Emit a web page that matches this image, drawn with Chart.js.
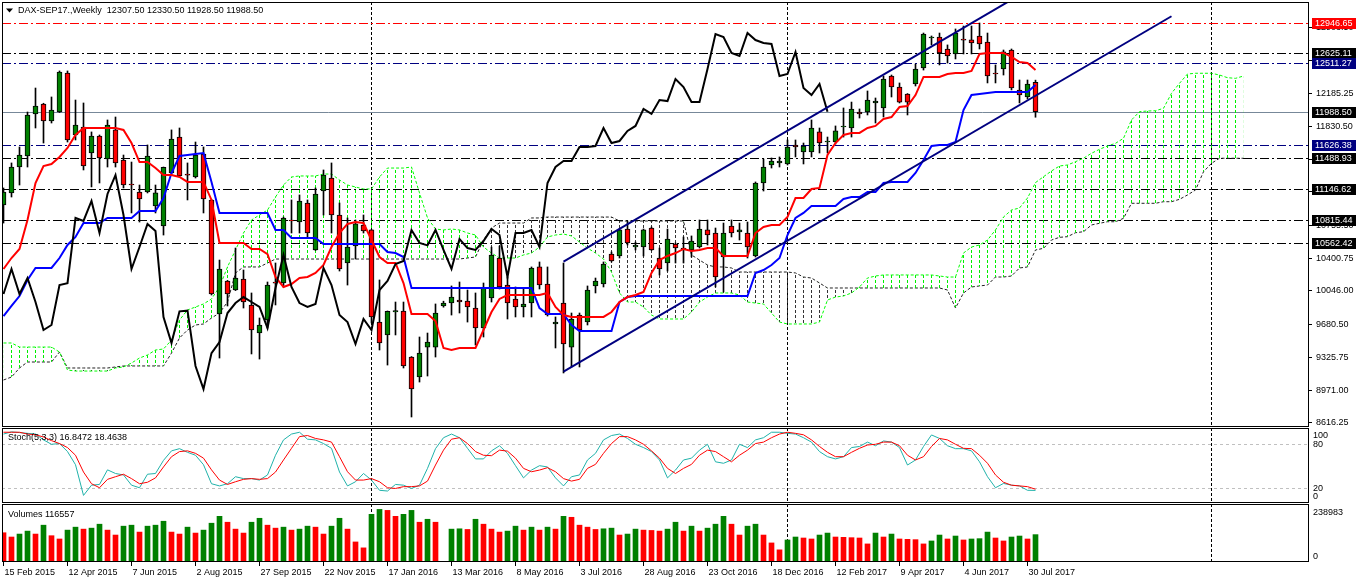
<!DOCTYPE html>
<html><head><meta charset="utf-8">
<script src="https://cdn.jsdelivr.net/npm/chart.js@4.4.1/dist/chart.umd.min.js"></script>
<style>
html,body{margin:0;padding:0;background:#fff;overflow:hidden;width:1358px;height:584px;}
canvas{position:absolute;left:0;}
</style></head><body>
<canvas id="cMain" width="1358" height="428" style="top:0px"></canvas>
<canvas id="cStoch" width="1358" height="75" style="top:428px"></canvas>
<canvas id="cVol" width="1358" height="81" style="top:503px"></canvas>
<script>
// ---------------- DATA ----------------
const DATES = ['15 Feb 2015','12 Apr 2015','7 Jun 2015','2 Aug 2015','27 Sep 2015','22 Nov 2015','17 Jan 2016','13 Mar 2016','8 May 2016','3 Jul 2016','28 Aug 2016','23 Oct 2016','18 Dec 2016','12 Feb 2017','9 Apr 2017','4 Jun 2017','30 Jul 2017'];
const DATE_INDEX = [0,8,16,24,32,40,48,56,64,72,80,88,96,104,112,120,128];

const OPEN = [10977,11108,11389,11508,11964,12072,11888,11985,12408,11736,
11823,11541,11725,11476,11791,11465,11205,11118,11118,10967,
10750,11324,11714,11313,11281,11530,11032,9796,10154,10056,
10175,9894,9590,9731,10143,10132,10815,10793,10999,10490,
11129,11270,10869,10349,10533,10761,10707,9709,9569,9820,
9829,9330,9113,9438,9438,9883,9915,9948,9937,9861,
9644,9970,10403,10110,9959,9872,9915,10306,10121,9688,
9915,9438,9785,9709,10100,10121,10446,10425,10717,10522,
10522,10728,10403,10349,10555,10511,10490,10522,10707,10674,
10414,10750,10685,10674,10425,11216,11411,11433,11422,11628,
11552,11552,11769,11660,11660,11823,11812,11985,11985,12083,
12029,12375,12256,12180,12289,12462,12787,12798,12668,12614,
12776,12766,12809,12744,12408,12451,12657,12224,12148,12307.5];
const HIGH = [11162,11433,11606,11985,12245,12080,12148,12430,12430,12115,
12083,11769,11736,11899,11931,11519,11443,11194,11628,11194,
11389,11791,11812,11433,11660,11606,11040,10381,10160,10511,
10273,10024,9753,10143,10349,10847,11032,11086,11032,11162,
11357,11433,10999,10837,10815,10869,10712,10165,9829,9926,
9926,9335,9547,9590,9905,9935,10100,10143,10056,10024,
10132,10522,10533,10197,10089,10078,10306,10360,10306,9764,
10349,9807,9807,10100,10186,10360,10468,10717,10804,10576,
10717,10739,10511,10717,10566,10631,10642,10815,10815,10728,
10782,10815,10782,10793,11227,11476,11487,11498,11682,11682,
11649,11899,11812,11714,11834,12029,12093,12018,12213,12137,
12375,12386,12300,12185,12505,12841,12809,12841,12712,12885,
12917,12917,12950,12841,12495,12657,12668,12332,12332,12330.5];
const LOW = [10782,11064,11194,11389,11812,11649,11866,11980,11660,11682,
11357,11173,11216,11389,11389,11162,10891,10793,11108,10891,
10652,11302,11281,11032,11270,10891,10002,9319,9883,10050,
9861,9363,9308,9644,9894,10089,10674,10674,10631,10485,
10869,10674,10262,10110,10392,10674,9699,9406,9243,9569,
9211,8680,9059,9124,9330,9870,9785,9807,9709,9460,
9547,9926,10067,9742,9764,9764,9764,10067,9774,9428,
9157,9222,9222,9677,10024,10089,10360,10403,10544,10490,
10425,10485,10219,10262,10349,10349,10414,10511,10544,10089,
10035,10631,10598,10403,10414,11129,11378,11389,11411,11498,
11422,11498,11541,11541,11638,11714,11714,11920,11953,11866,
11931,12148,12083,11953,12267,12440,12712,12495,12516,12560,
12614,12614,12668,12300,12300,12386,12224,12083,12126,11928.5];
const CLOSE = [11118,11389,11519,11953,12050,11888,12007,12419,11682,11844,
11400,11725,11487,11844,11433,11194,11194,11043,11508,11108,
11385,11693,11292,11302,11519,11043,10013,10284,10013,10186,
9926,9623,9677,10110,10130,10837,10805,11021,10674,11097,
11302,10869,10284,10522,10772,10696,9764,9482,9825,9832,
9233,8983,9373,9493,9807,9915,9980,9926,9872,9644,
10078,10436,10089,9915,9872,9905,10295,10110,9785,9709,
9471,9742,9623,10056,10154,10338,10371,10707,10566,10540,
10707,10490,10284,10609,10511,10490,10587,10717,10652,10197,
10674,10674,10707,10522,11216,11389,11454,11454,11606,11606,
11617,11812,11649,11671,11780,11834,12018,11964,12115,12104,
12343,12256,12093,12093,12451,12830,12798,12625,12592,12841,
12765,12733,12722,12375,12397,12636,12245,12169,12289,11988.5];

const TENKAN = [10284,10403,10501,10815,11216,11400,11422,11498,11595,11736,
11812,11812,11812,11812,11812,11791,11649,11443,11443,11378,
11302,11302,11281,11227,11227,11227,11032,10566,10566,10566,
10566,10501,10501,10446,10197,10089,10121,10186,10197,10241,
10327,10522,10674,10772,10793,10782,10598,10414,10349,10349,
10132,9796,9796,9796,9720,9428,9406,9428,9428,9428,
9623,9818,9959,10002,10002,10002,10002,10002,10024,9872,
9785,9764,9764,9764,9764,9764,9818,9926,9980,10002,
10035,10241,10381,10425,10457,10501,10479,10490,10511,10511,
10425,10425,10425,10425,10674,10739,10761,10761,10847,11053,
11053,11151,11162,11519,11649,11736,11758,11758,11812,11834,
11909,11931,12039,12050,12169,12365,12365,12365,12397,12408,
12408,12430,12614,12625,12625,12625,12582,12527,12516,12440];
const KIJUN = [9774,9883,9991,10165,10295,10295,10295,10403,10544,10631,
10782,10782,10782,10837,10837,10837,10837,10913,10913,10913,
11053,11324,11508,11519,11530,11541,11227,10891,10891,10891,
10891,10891,10891,10891,10707,10707,10620,10620,10620,10620,
10555,10555,10555,10555,10555,10555,10555,10555,10468,10457,
10414,10078,10078,10078,10078,10078,10078,10078,10078,10078,
10078,10078,10078,10078,10078,10078,10078,9861,9796,9796,
9796,9677,9612,9612,9612,9612,9612,9926,9980,9991,
9991,9991,9991,9991,9991,9991,9991,9991,9991,9991,
9991,9991,9991,9991,10241,10273,10327,10403,10652,10837,
10891,10967,10967,10967,10967,11043,11064,11064,11118,11118,
11216,11227,11227,11227,11324,11465,11617,11628,11628,11660,
12007,12169,12180,12191,12202,12202,12202,12202,12202,12278];
const SPAN_A = [9482,9482,9438,9438,9438,9438,9438,9384,9189,9178,
9178,9178,9178,9178,9211,9222,9265,9319,9352,9406,
9417,9514,9731,9840,9872,9905,9959,10089,10306,10490,
10674,10815,10869,10923,11064,11194,11281,11292,11292,11292,
11313,11313,11248,11194,11173,11151,11151,11281,11378,11378,
11378,11389,11108,10837,10717,10707,10717,10707,10674,10652,
10522,10457,10403,10403,10403,10436,10457,10522,10631,10652,
10663,10642,10576,10511,10457,10392,10251,10024,9926,9926,
9872,9785,9742,9742,9742,9742,9818,9926,9980,10024,
10024,10024,10002,9926,9915,9905,9807,9709,9688,9688,
9688,9688,9709,9948,9980,9991,10024,10089,10186,10208,
10219,10219,10219,10219,10219,10219,10219,10208,10197,10197,
10457,10522,10544,10598,10707,10847,10923,10945,11053,11220,
11284,11346,11400,11411,11447,11484,11538,11581,11617,11646,
11700,11899,11989,11996,11999,12025,12188,12296,12397,12405,
12405,12405,12386,12357,12350,12375];
const SPAN_B = [9081,9113,9211,9276,9276,9276,9276,9384,9211,9211,
9211,9211,9211,9211,9222,9233,9233,9233,9233,9233,
9233,9373,9536,9623,9677,9688,9753,9807,9926,10241,
10306,10306,10306,10349,10392,10392,10392,10392,10392,10392,
10392,10392,10392,10392,10392,10392,10392,10392,10392,10392,
10392,10392,10392,10392,10392,10392,10392,10392,10403,10414,
10598,10728,10782,10782,10782,10782,10837,10837,10847,10847,
10847,10847,10847,10847,10847,10847,10847,10804,10804,10804,
10804,10804,10804,10804,10804,10804,10436,10381,10327,10306,
10306,10295,10251,10251,10251,10251,10251,10251,10251,10241,
10197,10186,10132,10078,10078,10078,10078,10078,10078,10078,
10078,10078,10078,10078,10078,10078,10078,10078,10056,9861,
10024,10089,10100,10110,10197,10197,10208,10295,10306,10490,
10508,10598,10627,10634,10677,10688,10761,10779,10796,10796,
10833,10996,10996,10996,10996,11013,11013,11039,11086,11140,
11338,11429,11484,11484,11484,11484];
const CHIKOU_SHIFT = 26;

const STOCH_K = [94,97,96,95,94,86,80,81,70,52,
10,24,25,45,40,38,24,20.5,39,40,
58,71,74,69,65,52,26,23,26,35.6,
33,33,31,38,65,86,94,96.5,87,86,
81,74.5,42,23,28.7,40,31,17,16,25,
24,19.5,24,47,74,89,94,89,74.5,60,
60,71,78,67.6,50.7,34,44.7,50.7,49,34,
23,35.6,38,58.5,67.6,86,92,94,88,80,
75.5,70,58.5,34,44.7,58.5,61,72,80,56,
54,58.5,80,75.5,86,89,96.5,96.5,95,94,
89,83,70,63,60,63,75.5,77,83,78,
84.6,83,75.5,51.6,58.5,77,92.8,88,78,74,
74,71,56,35.6,20.5,26.4,24,23,17,16.85];
const STOCH_D = [96.5,96.5,96.5,94,93,90,85,81,75.5,65,
42,26,20.5,32,35.6,39,33,26,28,34,
49,63,70,71,67.6,61,45,31,25,28.7,
32,33,32,33,42,58.5,74.5,90.5,92,88,
86,83,63,42.4,31,31,33,28.7,20.5,19.5,
22,22,23,29.6,51.6,72,87,89,81,70,
65,64.4,72,70.6,61,47,42.4,44.7,48,42.4,
33,29.6,32,47,52.5,67.6,81,90.5,90.5,86,
80,71,61,47,40,47,52.5,65,72,70,
63,56,65,72,81,83,89,94,96.5,95,
93,86,77,69,63,63,69,74.5,79,80,
83,83,78,65,58.5,63,77,88,86,80,
74.5,74,65,54,38,28,24,23,22,18.46];
const VOLUME = [124600,106400,119000,131600,119000,156800,112000,98000,135800,148400,
140000,144200,161000,135800,114800,152600,156800,127400,152600,156800,
173600,127400,119000,148400,123200,135800,165200,194600,169400,140000,
123200,169400,186200,156800,144200,148400,135800,140000,152600,148400,
119000,152600,186200,140000,85400,60200,203000,224000,219800,194600,
203000,219800,169400,182000,169400,2800,140000,141400,138600,182000,
161000,140000,127400,131600,152600,135800,148400,135800,148400,140000,
194600,190400,156800,148400,138600,141400,144200,114800,119000,140000,
135800,134400,131600,140000,169400,131600,152600,131600,144200,161000,
194600,161000,114800,152600,161000,114800,81200,51800,93800,106400,
102200,98000,114800,123200,106400,105000,103600,102200,77000,123200,
106400,119000,98000,96600,95200,77000,89600,114800,98000,110600,
93800,98000,99400,127400,102200,89600,106400,110600,98000,116557];

const PRICE_TICKS = [8616.25,8971.00,9325.75,9680.50,10046.00,10400.75,10755.50,11121.00,11475.75,11830.50,12185.25,12540.00,12903.50];
const LEVELS = [12946.65,12625.11,12511.27,11988.50,11626.38,11488.93,11146.62,10815.44,10562.42];
const SEPARATORS = [46,98,151];
const CHANNEL_X = [70,146];
const CHANNEL_LOWER = [9171,13023];
const CHANNEL_UPPER = [10363,14215];
const STOCH_LEVELS = [80,20];
const TITLE = 'DAX-SEP17.,Weekly  12307.50 12330.50 11928.50 11988.50';
const STOCH_TITLE = 'Stoch(5,3,3) 16.8472 18.4638';
const VOL_TITLE = 'Volumes 116557';
const VOL_MAX_LABEL = '238983';

// ---------------- STYLE ----------------
const FONT = "'Liberation Sans', Arial, sans-serif";
const FS = 9;
const DD = [9,3,2,3];
const LEVEL_STYLE = [
  {c:'#ff0000', box:'#ff0000', dash:DD},
  {c:'#000000', box:'#000000', dash:DD},
  {c:'#000080', box:'#000080', dash:DD},
  {c:'#778899', box:'#000000', dash:[]},
  {c:'#000080', box:'#000080', dash:DD},
  {c:'#000000', box:'#000000', dash:DD},
  {c:'#000000', box:'#000000', dash:DD},
  {c:'#000000', box:'#000000', dash:DD},
  {c:'#000000', box:'#000000', dash:DD}
];
const GREEN = '#008000', RED = '#ff0000';
const X_MIN = -0.1875, X_MAX = 163.1875;
const AXIS_W = 49;

Chart.defaults.font.family = FONT;
Chart.defaults.font.size = FS;
Chart.defaults.color = '#000';

function hatch(color){
  const c = document.createElement('canvas'); c.width = 8; c.height = 5;
  const g = c.getContext('2d'); g.fillStyle = color; g.fillRect(3,0,1,3);
  return g.createPattern(c,'repeat');
}
const pts = (arr, off) => arr.map((v,i)=>({x:i+(off||0), y:v}));

function xAxis(display){
  return {type:'linear', min:X_MIN, max:X_MAX, offset:false, display:display,
    grid:{display:false}, border:{display:false}, ticks:{display:false}};
}
function line(ctx,x1,y1,x2,y2,color,dash,w){
  ctx.save(); ctx.beginPath(); ctx.setLineDash(dash||[]); ctx.strokeStyle=color; ctx.lineWidth=w||1;
  ctx.moveTo(x1,y1); ctx.lineTo(x2,y2); ctx.stroke(); ctx.restore();
}
function separators(chart){
  const {ctx, chartArea:a, scales:{x}} = chart;
  SEPARATORS.forEach(i=>{
    const px = x.getPixelForValue(i);
    line(ctx, px, a.top, px, a.bottom, '#000', [3,2], 1);
  });
}
function frame(chart){
  const {ctx, chartArea:a} = chart;
  ctx.save(); ctx.strokeStyle='#000'; ctx.lineWidth=1;
  ctx.strokeRect(a.left+0.5, a.top+0.5, a.right-a.left-1, a.bottom-a.top-1);
  ctx.restore();
}
function text(ctx, s, x, y, color, base){
  ctx.save(); ctx.font = FS+'px '+FONT; ctx.fillStyle=color||'#000';
  ctx.textBaseline = base||'middle'; ctx.textAlign='left'; ctx.fillText(s,x,y); ctx.restore();
}
const common = {responsive:false, animation:false, devicePixelRatio:1, events:[],
  plugins:{legend:{display:false}, tooltip:{enabled:false}}};

// ---------------- MAIN ----------------
const mainPlugin = {
  id:'mainDecor',
  beforeDatasetsDraw(chart){
    const {ctx, chartArea:a, scales:{y}} = chart;
    separators(chart);
    LEVELS.forEach((v,k)=>{
      const py = Math.round(y.getPixelForValue(v))+0.5;
      line(ctx, a.left, py, a.right, py, LEVEL_STYLE[k].c, LEVEL_STYLE[k].dash, 1);
    });
  },
  afterDraw(chart){
    const {ctx, chartArea:a, scales:{y}} = chart;
    frame(chart);
    ctx.save(); ctx.fillStyle='#000'; ctx.beginPath();
    ctx.moveTo(6,8.5); ctx.lineTo(13,8.5); ctx.lineTo(9.5,12.5); ctx.closePath(); ctx.fill(); ctx.restore();
    text(ctx, TITLE, 18, 11);
    LEVELS.forEach((v,k)=>{
      const py = Math.round(y.getPixelForValue(v));
      ctx.save(); ctx.fillStyle = LEVEL_STYLE[k].box;
      ctx.fillRect(a.right+3, py-5, 44, 11); ctx.restore();
      text(ctx, v.toFixed(2), a.right+6, py+0.5, '#fff');
    });
  }
};

new Chart(document.getElementById('cMain'), {
  type:'line',
  data:{datasets:[
    {type:'line', data:[{x:CHANNEL_X[0],y:CHANNEL_UPPER[0]},{x:CHANNEL_X[1],y:CHANNEL_UPPER[1]}], borderColor:'#000080', borderWidth:2, pointRadius:0, order:0},
    {type:'line', data:[{x:CHANNEL_X[0],y:CHANNEL_LOWER[0]},{x:CHANNEL_X[1],y:CHANNEL_LOWER[1]}], borderColor:'#000080', borderWidth:2, pointRadius:0, order:0},
    {type:'line', data:pts(CLOSE.slice(CHIKOU_SHIFT)), borderColor:'#000000', borderWidth:2, pointRadius:0, tension:0, order:1},
    {type:'line', data:pts(TENKAN), borderColor:'#ff0000', borderWidth:2, pointRadius:0, tension:0, order:2},
    {type:'line', data:pts(KIJUN), borderColor:'#0000ff', borderWidth:2, pointRadius:0, tension:0, order:3},
    {type:'bar', data:OPEN.map((o,i)=>({x:i, y:[o, CLOSE[i]]})), backgroundColor:OPEN.map((o,i)=>CLOSE[i]>=o?GREEN:RED),
      borderColor:'#000', borderWidth:1, borderSkipped:false, barThickness:5, grouped:false, order:5},
    {type:'bar', data:OPEN.map((o,i)=>({x:i, y:[LOW[i], HIGH[i]]})), backgroundColor:'#000', borderWidth:0, barThickness:1, grouped:false, order:6},
    {type:'line', data:pts(SPAN_A), borderColor:'#00ff00', borderWidth:1, borderDash:[3,2], pointRadius:0, tension:0, order:7,
      fill:{target:8, above:hatch('#00ee00'), below:hatch('#333333')}},
    {type:'line', data:pts(SPAN_B), borderColor:'#222222', borderWidth:1, borderDash:[3,2], pointRadius:0, tension:0, order:8}
  ]},
  options:Object.assign({}, common, {
    layout:{padding:{left:2, right:0, top:2, bottom:1}},
    scales:{
      x:xAxis(false),
      y:{type:'linear', position:'right', min:8571.6, max:13177.3,
        afterFit(s){ s.width = AXIS_W; s.paddingTop = 0; s.paddingBottom = 0; },
        afterBuildTicks(s){ s.ticks = PRICE_TICKS.map(v=>({value:v})); },
        ticks:{callback:(v)=>Number(v).toFixed(2), autoSkip:false, padding:4, color:'#000', font:{family:FONT,size:FS}},
        grid:{drawOnChartArea:false, drawTicks:true, tickLength:3, color:'#000'},
        border:{display:false}}
    }
  }),
  plugins:[mainPlugin]
});

// ---------------- STOCH ----------------
const stochPlugin = {
  id:'stochDecor',
  beforeDatasetsDraw(chart){
    const {ctx, chartArea:a, scales:{y}} = chart;
    STOCH_LEVELS.forEach(v=>{
      const py = Math.round(y.getPixelForValue(v))+0.5;
      line(ctx, a.left, py, a.right, py, '#c0c0c0', [3,3], 1);
    });
    separators(chart);
  },
  afterDraw(chart){
    const {ctx, chartArea:a, scales:{y}} = chart;
    frame(chart);
    text(ctx, STOCH_TITLE, 8, 9.5);
    text(ctx, '100', a.right+4, 7.5);
    text(ctx, '80', a.right+4, y.getPixelForValue(80));
    text(ctx, '20', a.right+4, y.getPixelForValue(20));
    text(ctx, '0', a.right+4, 68.5);
  }
};
new Chart(document.getElementById('cStoch'), {
  type:'line',
  data:{datasets:[
    {data:pts(STOCH_D), borderColor:'#ff0000', borderWidth:1, pointRadius:0, tension:0, order:0},
    {data:pts(STOCH_K), borderColor:'#20b2aa', borderWidth:1, pointRadius:0, tension:0, order:1}
  ]},
  options:Object.assign({}, common, {
    layout:{padding:{left:2, right:0, top:0, bottom:0}},
    scales:{
      x:xAxis(false),
      y:{type:'linear', position:'right', min:-0.4, max:102.3,
        afterFit(s){ s.width = AXIS_W; s.paddingTop = 0; s.paddingBottom = 0; },
        ticks:{display:false}, grid:{display:false}, border:{display:false}}
    }
  }),
  plugins:[stochPlugin]
});

// ---------------- VOLUME ----------------
const volPlugin = {
  id:'volDecor',
  beforeDatasetsDraw(chart){ separators(chart); },
  afterDraw(chart){
    const {ctx, chartArea:a} = chart;
    frame(chart);
    text(ctx, VOL_TITLE, 8, 11.5);
    text(ctx, VOL_MAX_LABEL, a.right+4, 9.5);
    text(ctx, '0', a.right+4, 53.5);
  }
};
new Chart(document.getElementById('cVol'), {
  type:'line',
  data:{datasets:[
    {type:'bar', data:pts(VOLUME), backgroundColor:VOLUME.map((v,i)=> (i>0 && v>VOLUME[i-1]) ? GREEN : RED),
      borderWidth:0, barThickness:5, grouped:false}
  ]},
  options:Object.assign({}, common, {
    layout:{padding:{left:2, right:0, top:1, bottom:0}},
    scales:{
      x:{type:'linear', min:X_MIN, max:X_MAX, offset:false, position:'bottom',
        afterFit(s){ s.height = 22; s.paddingLeft = 0; s.paddingRight = 0; },
        afterBuildTicks(s){ s.ticks = DATE_INDEX.map(v=>({value:v})); },
        ticks:{callback:(v)=>DATES[DATE_INDEX.indexOf(v)], align:'start', autoSkip:false, maxRotation:0, minRotation:0,
          padding:1, labelOffset:1, color:'#000', font:{family:FONT,size:FS}},
        grid:{drawOnChartArea:false, drawTicks:true, tickLength:4, color:'#000', offset:false},
        border:{display:false}},
      y:{type:'linear', position:'right', min:0, max:247000,
        afterFit(s){ s.width = AXIS_W; s.paddingTop = 0; s.paddingBottom = 0; },
        ticks:{display:false}, grid:{display:false}, border:{display:false}}
    }
  }),
  plugins:[volPlugin]
});
</script>
</body></html>
